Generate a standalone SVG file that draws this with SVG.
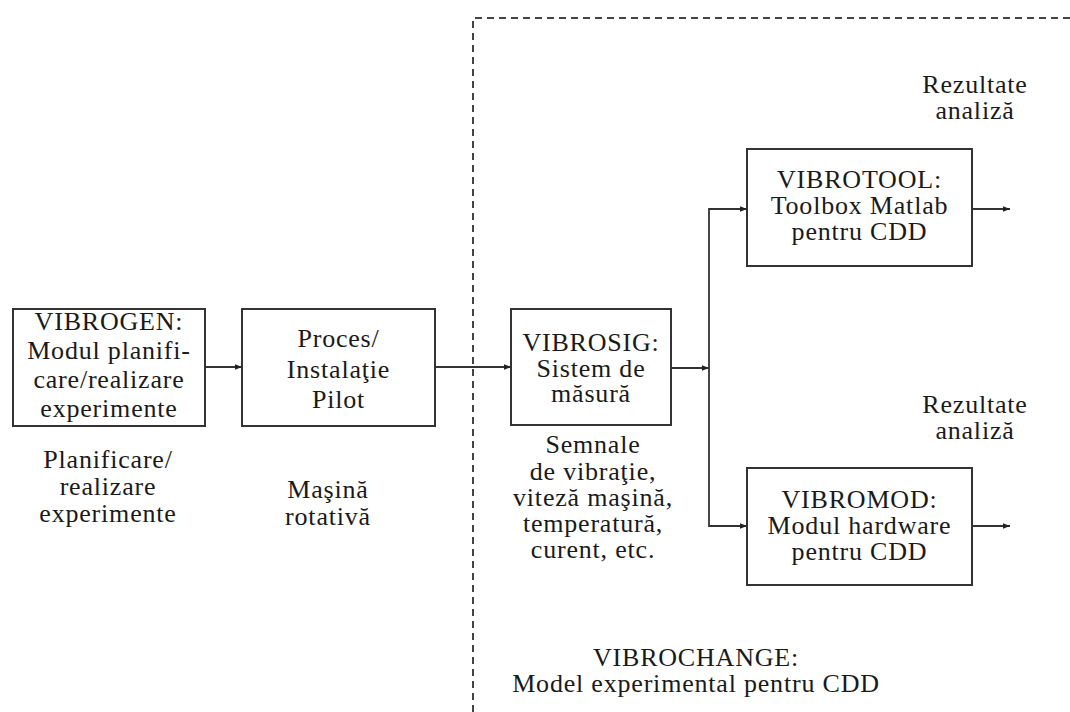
<svg xmlns="http://www.w3.org/2000/svg" width="1070" height="712" viewBox="0 0 1070 712">
<style>
.box{fill:#fff;stroke:#333;stroke-width:2}
.t{font-family:"Liberation Serif","Times New Roman",serif;font-size:26px;fill:#1a1a1a;text-anchor:middle;letter-spacing:0.8px}
.ln{fill:none;stroke:#333;stroke-width:1.8}
.dash{fill:none;stroke:#444;stroke-width:2;stroke-dasharray:7 5}
</style>
<defs>
<marker id="ah" viewBox="0 0 10 10" refX="10" refY="5" markerWidth="7" markerHeight="7" markerUnits="userSpaceOnUse" orient="auto">
<path d="M0,1 L10,5 L0,9 Z" fill="#222"/>
</marker>
</defs>
<rect width="1070" height="712" fill="#fff"/>
<g id="boundary">
<path class="dash" d="M473,712 L473,18 L1070,18"/>
</g>
<g id="connectors">
<line class="ln" x1="205" y1="367" x2="242" y2="367" marker-end="url(#ah)"/>
<line class="ln" x1="435" y1="367" x2="511" y2="367" marker-end="url(#ah)"/>
<line class="ln" x1="671" y1="368" x2="709" y2="368" marker-end="url(#ah)"/>
<path class="ln" d="M747,209 L709,209 L709,526 L747,526"/>
<line class="ln" x1="709" y1="209" x2="747" y2="209" marker-end="url(#ah)"/>
<line class="ln" x1="709" y1="526" x2="747" y2="526" marker-end="url(#ah)"/>
<line class="ln" x1="972" y1="209" x2="1010" y2="209" marker-end="url(#ah)"/>
<line class="ln" x1="972" y1="526" x2="1010" y2="526" marker-end="url(#ah)"/>
</g>
<g id="vibrogen">
<rect class="box" x="13" y="309" width="192" height="117"/>
<text class="t" x="109" y="330">VIBROGEN:</text>
<text class="t" x="109" y="359">Modul planifi-</text>
<text class="t" x="109" y="388">care/realizare</text>
<text class="t" x="109" y="417">experimente</text>
</g>
<g id="vibrogen-label">
<text class="t" x="108" y="468">Planificare/</text>
<text class="t" x="108" y="495">realizare</text>
<text class="t" x="108" y="522">experimente</text>
</g>
<g id="proces">
<rect class="box" x="242" y="309" width="193" height="117"/>
<text class="t" x="338.5" y="347">Proces/</text>
<text class="t" x="338.5" y="378">Instalaţie</text>
<text class="t" x="338.5" y="408">Pilot</text>
</g>
<g id="proces-label">
<text class="t" x="328" y="498">Maşină</text>
<text class="t" x="328" y="525">rotativă</text>
</g>
<g id="vibrosig">
<rect class="box" x="511" y="309" width="160" height="116"/>
<text class="t" x="591" y="351">VIBROSIG:</text>
<text class="t" x="591" y="377">Sistem de</text>
<text class="t" x="591" y="402">măsură</text>
</g>
<g id="vibrosig-label">
<text class="t" x="593" y="453">Semnale</text>
<text class="t" x="593" y="480">de vibraţie,</text>
<text class="t" x="593" y="506">viteză maşină,</text>
<text class="t" x="593" y="532">temperatură,</text>
<text class="t" x="593" y="558">curent, etc.</text>
</g>
<g id="vibrotool">
<rect class="box" x="747" y="149" width="225" height="117"/>
<text class="t" x="859.5" y="188">VIBROTOOL:</text>
<text class="t" x="859.5" y="214">Toolbox Matlab</text>
<text class="t" x="859.5" y="240">pentru CDD</text>
</g>
<g id="rezultate1">
<text class="t" x="975" y="93">Rezultate</text>
<text class="t" x="975" y="119">analiză</text>
</g>
<g id="vibromod">
<rect class="box" x="747" y="468" width="225" height="117"/>
<text class="t" x="859.5" y="508">VIBROMOD:</text>
<text class="t" x="859.5" y="534">Modul hardware</text>
<text class="t" x="859.5" y="560">pentru CDD</text>
</g>
<g id="rezultate2">
<text class="t" x="975" y="413">Rezultate</text>
<text class="t" x="975" y="439">analiză</text>
</g>
<g id="vibrochange">
<text class="t" x="696" y="666">VIBROCHANGE:</text>
<text class="t" x="696" y="692">Model experimental pentru CDD</text>
</g>
</svg>
